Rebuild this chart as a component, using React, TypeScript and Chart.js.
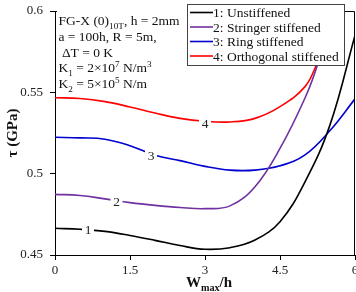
import React, { useEffect, useRef } from "react";
import { Chart, registerables } from "chart.js";

Chart.register(...registerables);

// ---- data ----
const xBlack = [0, 0.5, 1, 1.5, 2, 2.5, 3, 3.5, 4, 4.5, 5, 5.5, 6];
const tauUnstiffened = [0.4664, 0.4658, 0.4645, 0.462, 0.459, 0.4558, 0.4535, 0.4545, 0.4592, 0.4705, 0.495, 0.53, 0.585];
const xPurple = [0, 0.5, 1, 1.5, 2, 2.5, 3, 3.5, 4, 4.5, 5, 5.25, 5.55];
const tauStringer = [0.4873, 0.4866, 0.4845, 0.4822, 0.4805, 0.4792, 0.4785, 0.4802, 0.492, 0.5155, 0.5465, 0.567, 0.6];
const xBlue = [0, 0.5, 1, 1.5, 2, 2.5, 3, 3.5, 4, 4.5, 5, 5.5, 6];
const tauRing = [0.5224, 0.522, 0.5212, 0.5172, 0.5113, 0.508, 0.5045, 0.5022, 0.5022, 0.5048, 0.5115, 0.5265, 0.546];
const xRed = [0, 0.5, 1, 1.5, 2, 2.5, 3, 3.5, 4, 4.5, 5, 5.25, 5.5, 5.8];
const tauOrthogonal = [0.5467, 0.5462, 0.5443, 0.541, 0.5373, 0.534, 0.5322, 0.5318, 0.534, 0.5412, 0.5535, 0.568, 0.582, 0.6];

const seriesNames = ["1: Unstiffened", "2: Stringer stiffened", "3: Ring stiffened", "4: Orthogonal stiffened"];
const seriesColors = ["#000000", "#7030A0", "#0000D0", "#FF0000"];
const curveTags = ["1", "2", "3", "4"];
const tagX = [0.66, 1.23, 1.92, 3.0];
const tagY = [0.4654, 0.4828, 0.5111, 0.531];

const xTicks = [0, 1.5, 3, 4.5, 6];
const yTicks = [0.45, 0.5, 0.55, 0.6];

type Seg = [string, "n" | "sub" | "sup"];
const infoLines: Seg[][] = [
  [["FG-X (0)", "n"], ["10T", "sub"], [", h = 2mm", "n"]],
  [["a = 100h, R = 5m,", "n"]],
  [[" \u0394T = 0 K", "n"]],
  [["K", "n"], ["1", "sub"], [" = 2\u00d710", "n"], ["7", "sup"], [" N/m", "n"], ["3", "sup"]],
  [["K", "n"], ["2", "sub"], [" = 5\u00d710", "n"], ["5", "sup"], [" N/m", "n"]],
];

const SERIF = "'Liberation Serif', 'Times New Roman', serif";

function drawRich(ctx: CanvasRenderingContext2D, x: number, y: number, segs: Seg[], size: number, bold = false) {
  let cx = x;
  for (const [t, kind] of segs) {
    const s = kind === "n" ? size : size * 0.68;
    ctx.font = `${bold ? "bold " : ""}${s}px ${SERIF}`;
    const dy = kind === "sub" ? size * 0.28 : kind === "sup" ? -size * 0.38 : 0;
    ctx.fillText(t, cx, y + dy);
    cx += ctx.measureText(t).width;
  }
  return cx - x;
}

function richWidth(ctx: CanvasRenderingContext2D, segs: Seg[], size: number, bold = false) {
  let w = 0;
  for (const [t, kind] of segs) {
    const s = kind === "n" ? size : size * 0.68;
    ctx.font = `${bold ? "bold " : ""}${s}px ${SERIF}`;
    w += ctx.measureText(t).width;
  }
  return w;
}

const overlay = {
  id: "overlay",
  afterDatasetsDraw(chart: any) {
    const { ctx, chartArea: a, scales } = chart;
    const xs = scales.x;
    const ys = scales.y;
    ctx.save();
    // frame top and right
    ctx.strokeStyle = "#000";
    ctx.lineWidth = 1;
    ctx.beginPath();
    ctx.moveTo(a.left, a.top + 0.5);
    ctx.lineTo(a.right - 0.5, a.top + 0.5);
    ctx.lineTo(a.right - 0.5, a.bottom);
    ctx.stroke();

    // inline curve tags
    ctx.font = `13.5px ${SERIF}`;
    ctx.textAlign = "center";
    ctx.textBaseline = "middle";
    for (let i = 0; i < curveTags.length; i++) {
      const px = xs.getPixelForValue(tagX[i]);
      const py = ys.getPixelForValue(tagY[i]);
      ctx.fillStyle = "#fff";
      ctx.fillRect(px - 6, py - 6, 12, 12);
      ctx.fillStyle = "#222";
      ctx.fillText(curveTags[i], px, py + 1);
    }

    // info text box
    ctx.fillStyle = "#fff";
    ctx.fillRect(a.left + 2, 0, 130, 94);
    ctx.fillStyle = "#111";
    ctx.textAlign = "left";
    ctx.textBaseline = "alphabetic";
    const base = [25, 40.8, 56.5, 72.2, 88];
    infoLines.forEach((ln, i) => drawRich(ctx, 58.5, base[i], ln, 13.5));

    // legend
    const lx = 187.5, ly = 4.5, lw = 157, lh = 61;
    ctx.fillStyle = "#fff";
    ctx.fillRect(lx, ly, lw, lh);
    ctx.strokeStyle = "#444";
    ctx.lineWidth = 1;
    ctx.strokeRect(lx, ly, lw, lh);
    const rows = [17, 31.5, 46, 60.5];
    ctx.font = `13.5px ${SERIF}`;
    for (let i = 0; i < seriesNames.length; i++) {
      ctx.strokeStyle = seriesColors[i];
      ctx.lineWidth = 1.6;
      ctx.beginPath();
      ctx.moveTo(190, rows[i] - 4.5);
      ctx.lineTo(213, rows[i] - 4.5);
      ctx.stroke();
      ctx.fillStyle = "#111";
      ctx.fillText(seriesNames[i], 213, rows[i]);
    }

    // x-axis title W_max/h
    const title: Seg[] = [["W", "n"], ["max", "sub"], ["/h", "n"]];
    const tw = richWidth(ctx, title, 15, true);
    ctx.fillStyle = "#111";
    drawRich(ctx, 209 - tw / 2, 287, title, 15, true);

    // y-axis title
    ctx.save();
    ctx.translate(13, (a.top + a.bottom) / 2);
    ctx.rotate(-Math.PI / 2);
    ctx.font = `bold 15px ${SERIF}`;
    ctx.textAlign = "center";
    ctx.textBaseline = "middle";
    ctx.fillText("\u03c4 (GPa)", 0, 0);
    ctx.restore();

    ctx.restore();
  },
};

export default function App() {
  const ref = useRef<HTMLCanvasElement | null>(null);
  useEffect(() => {
    if (!ref.current) return;
    const mk = (xv: number[], yv: number[]) => xv.map((x, i) => ({ x, y: yv[i] }));
    const data = [
      mk(xBlack, tauUnstiffened),
      mk(xPurple, tauStringer),
      mk(xBlue, tauRing),
      mk(xRed, tauOrthogonal),
    ];
    const chart = new Chart(ref.current, {
      type: "line",
      data: {
        datasets: data.map((d, i) => ({
          label: seriesNames[i],
          data: d,
          borderColor: seriesColors[i],
          backgroundColor: seriesColors[i],
          borderWidth: 1.6,
          pointRadius: 0,
          tension: 0.4,
          fill: false,
          clip: 0,
        })),
      },
      options: {
        animation: false,
        responsive: false,
        devicePixelRatio: 1,
        layout: { padding: { top: 11, right: 1, left: 0, bottom: 0 } },
        plugins: { legend: { display: false }, tooltip: { enabled: false } },
        scales: {
          x: {
            type: "linear",
            min: 0,
            max: 6,
            afterBuildTicks: (s: any) => {
              s.ticks = xTicks.map((v) => ({ value: v }));
            },
            ticks: {
              padding: 3,
              color: "#222",
              font: { family: SERIF, size: 13 },
              maxRotation: 0,
              callback: (v: any) => String(v),
            },
            grid: { drawOnChartArea: false, color: "#000", tickLength: 5 },
            border: { color: "#000", width: 1 },
            afterFit: (s: any) => {
              s.height = 37;
              s.paddingLeft = 0;
              s.paddingRight = 0;
            },
          },
          y: {
            type: "linear",
            min: 0.45,
            max: 0.6,
            afterBuildTicks: (s: any) => {
              s.ticks = yTicks.map((v) => ({ value: v }));
            },
            ticks: {
              padding: 7,
              color: "#222",
              font: { family: SERIF, size: 13 },
              callback: (v: any) => String(Number(Number(v).toFixed(2))),
            },
            grid: { drawOnChartArea: false, color: "#000", tickLength: 5 },
            border: { color: "#000", width: 1 },
            afterFit: (s: any) => {
              s.width = 55;
              s.paddingTop = 0;
              s.paddingBottom = 0;
            },
          },
        },
      },
      plugins: [overlay],
    } as any);
    return () => chart.destroy();
  }, []);
  return (
    <div style={{ position: "fixed", left: 0, top: 0, width: 356, height: 292, background: "#fff" }}>
      <canvas ref={ref} width={356} height={292} style={{ width: 356, height: 292, display: "block" }} />
    </div>
  );
}
